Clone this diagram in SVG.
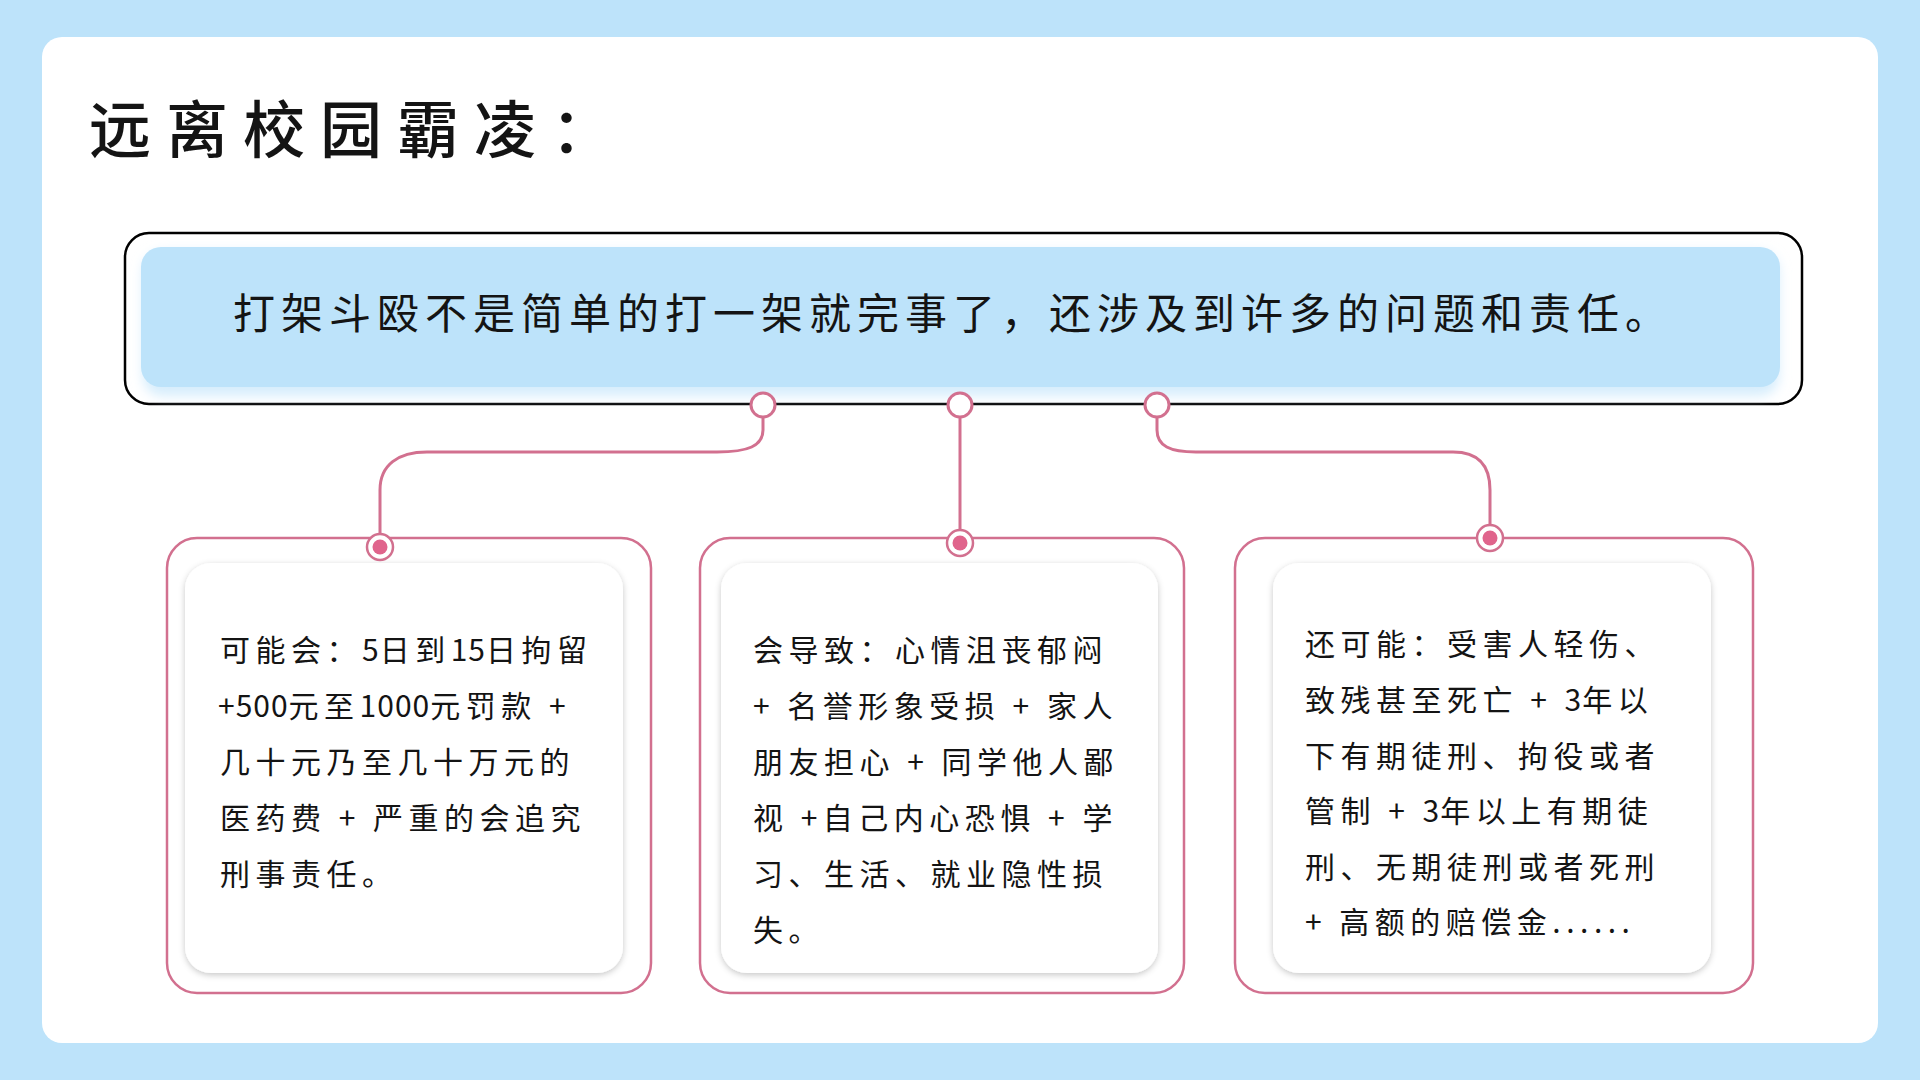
<svg xmlns="http://www.w3.org/2000/svg" width="1920" height="1080" viewBox="0 0 1920 1080">
  <defs>
    <style>
      text { font-family: "Noto Sans CJK SC", "Noto Sans", sans-serif; fill: #141414; }
      .title { font-size: 62px; font-weight: 500; letter-spacing: 15px; }
      .lead { font-size: 42px; letter-spacing: 6px; }
      .body { font-size: 30px; letter-spacing: 5.5px; }
      .n { letter-spacing: 1px; }
      .outer { fill: #ffffff; stroke: #D2708F; stroke-width: 2.5; }
      .card { fill: #ffffff; filter: url(#cardShadow); }
      .conn { fill: none; stroke: #D2708F; stroke-width: 3; }
      .port { fill: #ffffff; stroke: #D2708F; stroke-width: 3; }
      .ring { fill: #ffffff; stroke: #D2708F; stroke-width: 2.5; }
      .dot { fill: #E0648C; }
    </style>
    <filter id="cardShadow" x="-10%" y="-10%" width="120%" height="120%">
      <feDropShadow dx="0" dy="2" stdDeviation="3" flood-color="#000000" flood-opacity="0.22"/>
    </filter>
    <filter id="glow" x="-5%" y="-20%" width="110%" height="140%">
      <feGaussianBlur stdDeviation="6"/>
    </filter>
  </defs>

  <rect x="0" y="0" width="1920" height="1080" fill="#BDE3FA"/>
  <rect x="42" y="37" width="1836" height="1006" rx="20" fill="#ffffff"/>

  <g id="title">
    <text class="title" x="89" y="153">远离校园霸凌：</text>
  </g>

  <g id="top-node">
    <rect x="125" y="233" width="1677" height="171" rx="24" fill="#ffffff" stroke="#000000" stroke-width="2.5"/>
    <rect x="143" y="252" width="1636" height="144" rx="20" fill="#D6EDFC" filter="url(#glow)"/>
    <rect x="141" y="247" width="1639" height="140" rx="20" fill="#BDE3FA"/>
    <text class="lead" x="233" y="329">打架斗殴不是简单的打一架就完事了，还涉及到许多的问题和责任。</text>
  </g>

  <g id="connectors">
    <path class="conn" d="M763,417 V430 C763,446 748,452 717,452 H427 C398,452 380,465 380,490 V534"/>
    <path class="conn" d="M960,417 V530"/>
    <path class="conn" d="M1157,417 V430 C1157,446 1170,452 1196,452 H1453 C1478,452 1490,465 1490,490 V525"/>
    <circle class="port" cx="763" cy="405" r="12"/>
    <circle class="port" cx="960" cy="405" r="12"/>
    <circle class="port" cx="1157" cy="405" r="12"/>
  </g>

  <g id="node-left">
    <rect class="outer" x="167" y="538" width="484" height="455" rx="30"/>
    <rect class="card" x="185" y="563" width="438" height="410" rx="26"/>
    <circle class="ring" cx="380" cy="547" r="13"/>
    <circle class="dot" cx="380" cy="547" r="7.5"/>
    <text class="body">
      <tspan x="220" y="661">可能会：<tspan class="n">5</tspan>日到<tspan class="n">15</tspan>日拘留</tspan>
      <tspan x="218" y="717"><tspan class="n">+500</tspan>元至<tspan class="n">1000</tspan>元罚款 +</tspan>
      <tspan x="220" y="773">几十元乃至几十万元的</tspan>
      <tspan x="220" y="829">医药费 + 严重的会追究</tspan>
      <tspan x="220" y="885">刑事责任。</tspan>
    </text>
  </g>

  <g id="node-middle">
    <rect class="outer" x="700" y="538" width="484" height="455" rx="30"/>
    <rect class="card" x="721" y="563" width="437" height="410" rx="26"/>
    <circle class="ring" cx="960" cy="543" r="13"/>
    <circle class="dot" cx="960" cy="543" r="7.5"/>
    <text class="body">
      <tspan x="753" y="661">会导致：心情沮丧郁闷</tspan>
      <tspan x="753" y="717">+ 名誉形象受损 + 家人</tspan>
      <tspan x="753" y="773">朋友担心 + 同学他人鄙</tspan>
      <tspan x="753" y="829">视 +自己内心恐惧 + 学</tspan>
      <tspan x="753" y="885">习、生活、就业隐性损</tspan>
      <tspan x="753" y="941">失。</tspan>
    </text>
  </g>

  <g id="node-right">
    <rect class="outer" x="1235" y="538" width="518" height="455" rx="30"/>
    <rect class="card" x="1273" y="563" width="438" height="410" rx="26"/>
    <circle class="ring" cx="1490" cy="538" r="13"/>
    <circle class="dot" cx="1490" cy="538" r="7.5"/>
    <text class="body">
      <tspan x="1305" y="655">还可能：受害人轻伤、</tspan>
      <tspan x="1305" y="711">致残甚至死亡 + <tspan class="n">3</tspan>年以</tspan>
      <tspan x="1305" y="767">下有期徒刑、拘役或者</tspan>
      <tspan x="1305" y="822">管制 + <tspan class="n">3</tspan>年以上有期徒</tspan>
      <tspan x="1305" y="878">刑、无期徒刑或者死刑</tspan>
      <tspan x="1305" y="933">+ 高额的赔偿金......</tspan>
    </text>
  </g>
</svg>
